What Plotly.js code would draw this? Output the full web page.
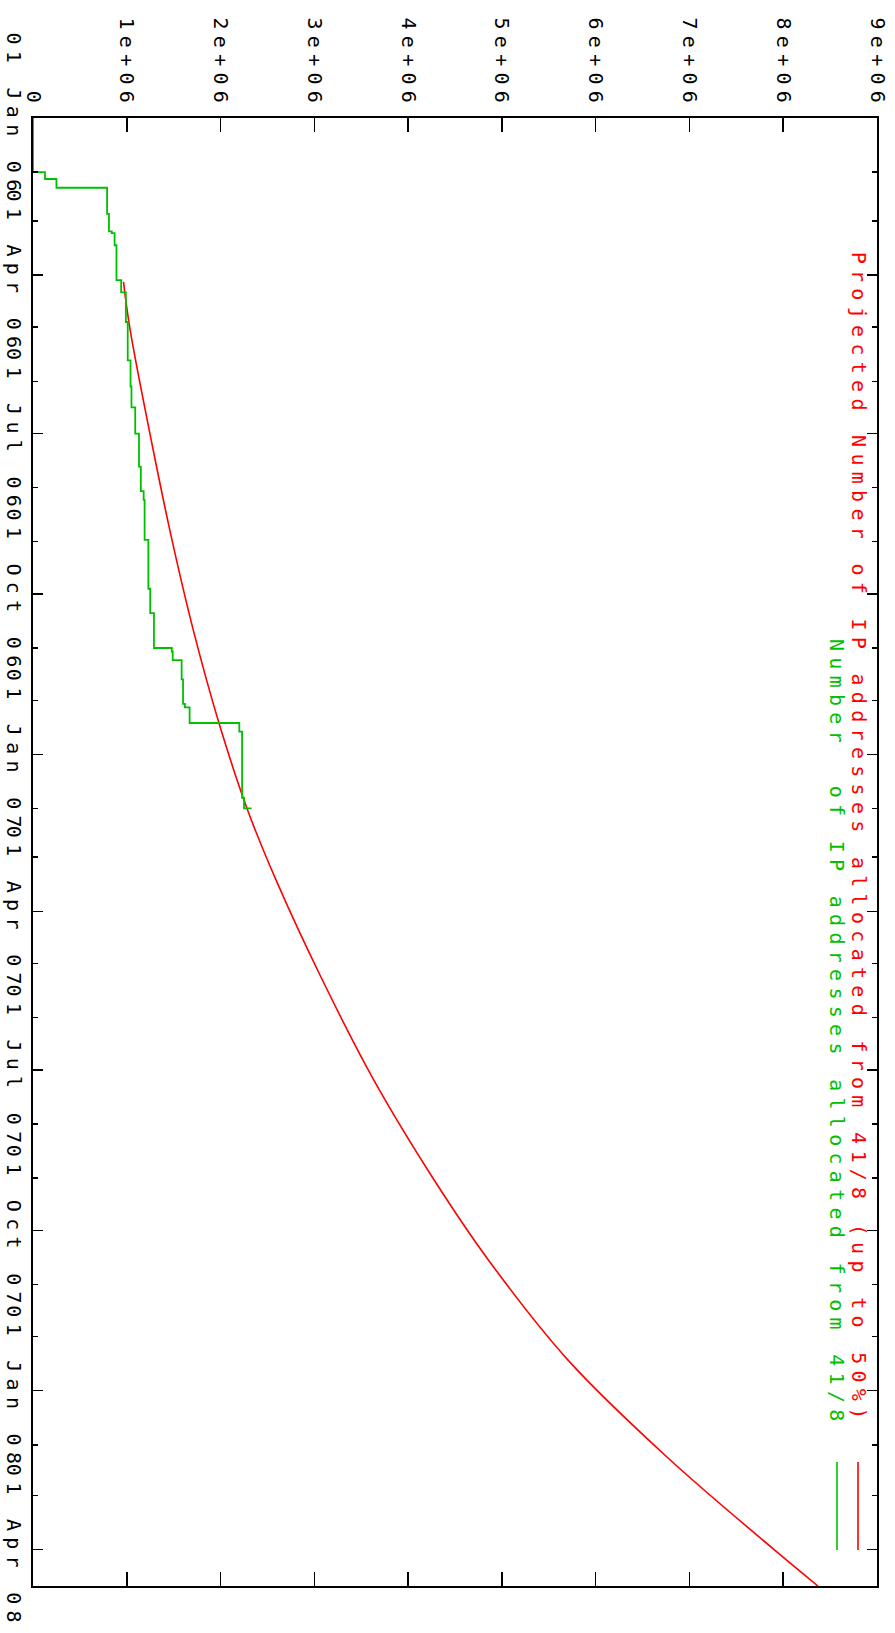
<!DOCTYPE html>
<html>
<head>
<meta charset="utf-8">
<script src="https://cdn.plot.ly/plotly-3.0.1.min.js"></script>
<style>
  html, body { margin: 0; padding: 0; background: #fff; }
  svg text { letter-spacing: 6.3px; }
</style>
</head>
<body>
<div id="chart" style="width:895px;height:1633px;"></div>
<script>
// Observed allocations from 41/8 (step line)
const allocDates = [
  '2006-01-01', '2006-02-01', '2006-02-05', '2006-02-10', '2006-02-25',
  '2006-03-07', '2006-03-08', '2006-03-15', '2006-04-04', '2006-04-11',
  '2006-04-28', '2006-05-20', '2006-06-04', '2006-06-16', '2006-07-01',
  '2006-07-20', '2006-08-03', '2006-08-08', '2006-08-31', '2006-09-28',
  '2006-10-12', '2006-11-01', '2006-11-03', '2006-11-08', '2006-11-19',
  '2006-12-03', '2006-12-05', '2006-12-14', '2006-12-19', '2007-01-26',
  '2007-02-01'
];
const allocValues = [
  0, 128000, 250000, 790000, 810000,
  840000, 870000, 890000, 940000, 990000,
  1010000, 1040000, 1050000, 1090000, 1130000,
  1150000, 1180000, 1190000, 1230000, 1250000,
  1290000, 1480000, 1490000, 1585000, 1600000,
  1620000, 1670000, 2200000, 2230000, 2250000,
  2330000
];

// Projection (up to 50%)
const projDates = [
  '2006-04-05', '2006-05-02', '2006-07-10', '2006-08-31', '2006-10-21',
  '2006-12-14', '2007-02-01', '2007-03-14', '2007-05-10', '2007-07-07',
  '2007-09-02', '2007-10-18', '2007-12-14', '2008-02-08', '2008-04-01',
  '2008-04-22'
];
const projValues = [
  965000, 1034000, 1280000, 1482000, 1706000,
  1983000, 2282000, 2591000, 3082000, 3636000,
  4276000, 4856000, 5698000, 6760000, 7900000,
  8370000
];

const valueTicks = [0, 1e6, 2e6, 3e6, 4e6, 5e6, 6e6, 7e6, 8e6, 9e6];
const valueTickLabels = ['0', '1e+06', '2e+06', '3e+06', '4e+06', '5e+06', '6e+06', '7e+06', '8e+06', '9e+06'];

const projName = 'Projected Number of IP addresses allocated from 41/8 (up to 50%)';
const allocName = 'Number  of IP addresses allocated from 41/8';

const RED = '#ff0000';
const GREEN = '#00c000';
const FONT = 'DejaVu Sans Mono, monospace';
const FS = 20;

const traces = [
  {
    x: projValues, y: projDates, type: 'scatter', mode: 'lines',
    line: { color: RED, width: 1.6, shape: 'spline', smoothing: 1 },
    name: projName, showlegend: false
  },
  {
    x: allocValues, y: allocDates, type: 'scatter', mode: 'lines',
    line: { color: GREEN, width: 1.8, shape: 'vh' },
    name: allocName, showlegend: false
  }
];

const layout = {
  width: 895, height: 1633,
  margin: { l: 33, r: 18, t: 118, b: 47 },
  paper_bgcolor: '#ffffff', plot_bgcolor: '#ffffff',
  font: { family: FONT, size: FS, color: '#000000' },
  xaxis: {
    side: 'top', range: [0, 9e6], fixedrange: true,
    tickmode: 'array', tickvals: valueTicks, ticktext: valueTickLabels,
    tickangle: 90, ticks: 'inside', ticklen: 14, tickwidth: 1.5, tickcolor: '#000',
    showline: true, linecolor: '#000', linewidth: 1.8, mirror: 'ticks',
    showgrid: false, zeroline: false,
    tickfont: { family: FONT, size: FS, color: '#000' }
  },
  yaxis: {
    type: 'date', range: ['2008-04-22', '2006-01-01'], fixedrange: true,
    tick0: '2006-01-01', dtick: 'M3', tickformat: '%d %b %y',
    tickangle: 90, ticks: 'inside', ticklen: 10, tickwidth: 1.5, tickcolor: '#000',
    minor: { dtick: 'M1', tick0: '2006-01-01', ticks: 'inside', ticklen: 5, tickwidth: 1.5, tickcolor: '#000', showgrid: false },
    showline: true, linecolor: '#000', linewidth: 1.8, mirror: 'ticks',
    showgrid: false, zeroline: false,
    tickfont: { family: FONT, size: FS, color: '#000' }
  },
  annotations: [
    {
      xref: 'paper', yref: 'paper', x: 0.978, y: 0.910,
      xanchor: 'center', yanchor: 'top', textangle: 90, showarrow: false,
      text: projName, font: { family: FONT, size: FS, color: RED }
    },
    {
      xref: 'paper', yref: 'paper', x: 0.952, y: 0.6465,
      xanchor: 'center', yanchor: 'top', textangle: 90, showarrow: false,
      text: allocName, font: { family: FONT, size: FS, color: GREEN }
    }
  ],
  shapes: [
    { type: 'line', xref: 'paper', yref: 'paper', x0: 0.9775, x1: 0.9775, y0: 0.0245, y1: 0.0845,
      line: { color: RED, width: 1.6 } },
    { type: 'line', xref: 'paper', yref: 'paper', x0: 0.9526, x1: 0.9526, y0: 0.0245, y1: 0.0845,
      line: { color: GREEN, width: 1.6 } }
  ]
};

Plotly.newPlot('chart', traces, layout, { displayModeBar: false, staticPlot: true });
</script>
</body>
</html>
